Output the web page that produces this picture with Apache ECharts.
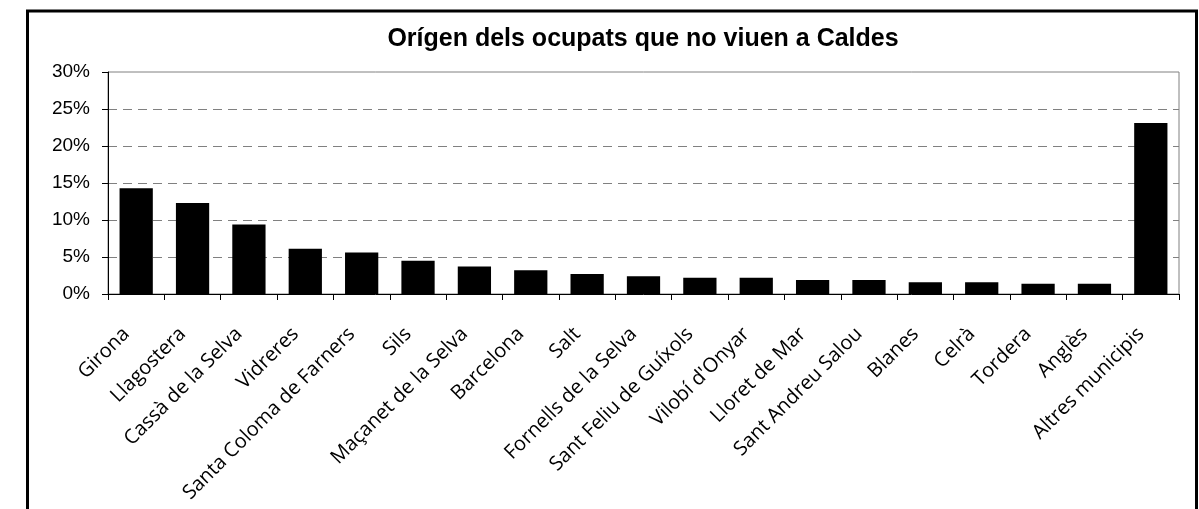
<!DOCTYPE html>
<html>
<head>
<meta charset="utf-8">
<script src="https://cdn.jsdelivr.net/npm/echarts@6/dist/echarts.min.js"></script>
<style>
  html, body { margin: 0; padding: 0; background: #fff; }
  #chart { width: 1199px; height: 509px; }
</style>
</head>
<body>
<div id="chart"></div>
<script>
// dades llegides del gràfic (percentatges)
const municipis = [
  'Girona', 'Llagostera', 'Cassà de la Selva', 'Vidreres', 'Santa Coloma de Farners',
  'Sils', 'Maçanet de la Selva', 'Barcelona', 'Salt', 'Fornells de la Selva',
  'Sant Feliu de Guíxols', 'Vilobí d\'Onyar', 'Lloret de Mar', 'Sant Andreu Salou',
  'Blanes', 'Celrà', 'Tordera', 'Anglès', 'Altres municipis'
]
const percentatges = [
  14.3, 12.3, 9.4, 6.1, 5.6,
  4.5, 3.7, 3.2, 2.7, 2.4,
  2.2, 2.2, 1.9, 1.9,
  1.6, 1.6, 1.4, 1.4, 23.1
]
const yMax = 30
const yInterval = 5

const chart = echarts.init(document.getElementById('chart'), null, { renderer: 'canvas' })

chart.setOption({
  animation: false,
  backgroundColor: '#fff',
  title: {
    text: 'Orígen dels ocupats que no viuen a Caldes',
    left: 638,
    textAlign: 'center',
    top: 22,
    textStyle: {
      fontFamily: 'Liberation Sans',
      fontSize: 25,
      fontWeight: 'bold',
      color: '#000'
    }
  },
  // marc exterior (la vora inferior queda fora de la imatge)
  graphic: [{
    type: 'rect',
    shape: { x: 27.5, y: 11, width: 1169, height: 700 },
    style: { fill: 'none', stroke: '#000', lineWidth: 3 },
    silent: true
  }],
  grid: {
    left: 108,
    right: 20,
    top: 72,
    bottom: 215,
    show: true,
    borderColor: '#808080',
    borderWidth: 1,
    containLabel: false
  },
  xAxis: {
    type: 'category',
    data: municipis,
    axisLine: { lineStyle: { color: '#000', width: 1 } },
    axisTick: { show: true, length: 6, lineStyle: { color: '#000' } },
    axisLabel: {
      interval: 0,
      rotate: 45,
      margin: 27,
      padding: [0, 14, 0, 0],
      fontFamily: 'Open Sans',
      fontSize: 20,
      color: '#000'
    }
  },
  yAxis: {
    type: 'value',
    min: 0,
    max: yMax,
    interval: yInterval,
    axisLine: { show: true, lineStyle: { color: '#000', width: 1 } },
    axisTick: { show: true, length: 6, lineStyle: { color: '#000' } },
    axisLabel: {
      margin: 18,
      formatter: v => v + '%',
      fontFamily: 'Liberation Sans',
      fontSize: 19,
      color: '#000'
    },
    splitLine: {
      show: true,
      showMinLine: false,
      showMaxLine: false,
      lineStyle: { color: '#808080', type: [9, 6], width: 1 }
    }
  },
  series: [{
    type: 'bar',
    data: percentatges,
    barCategoryGap: '41%',
    itemStyle: { color: '#000' }
  }]
})
</script>
</body>
</html>
